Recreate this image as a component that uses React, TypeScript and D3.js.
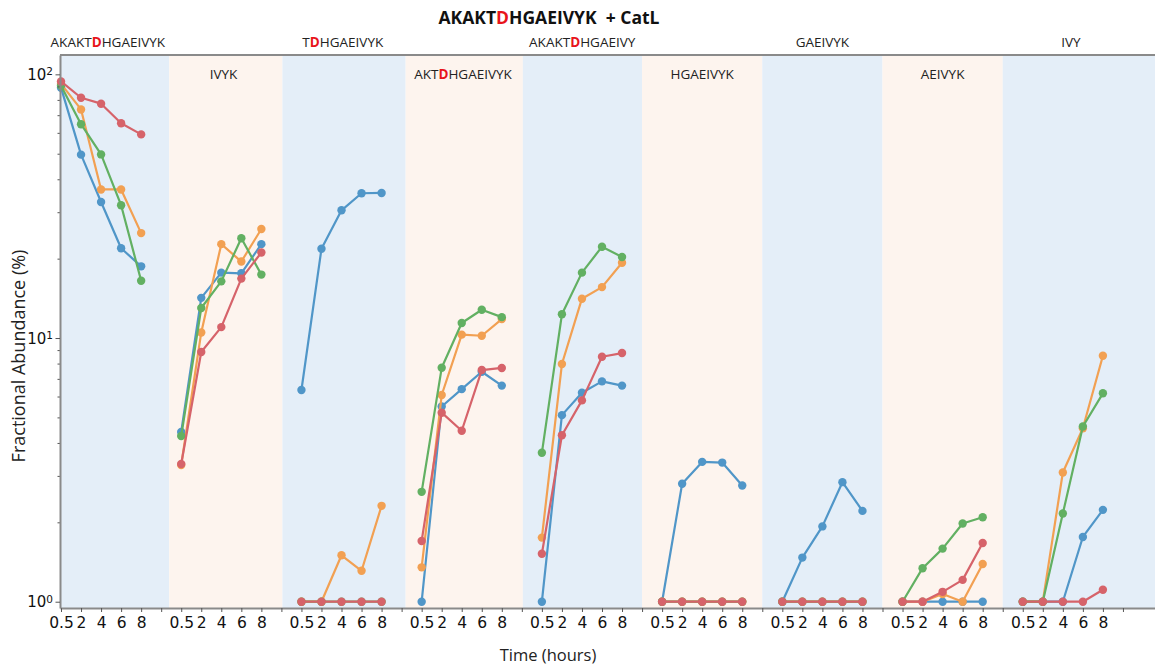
import React, { useEffect, useRef } from 'react'
import * as d3 from 'd3'

// sampling times (x tick labels inside every panel)
const times = ['0.5', '2', '4', '6', '8']

// peptide shown in each panel (the red bold letter is the D)
const peptides = ['AKAKTDHGAEIVYK', 'IVYK', 'TDHGAEIVYK', 'AKTDHGAEIVYK', 'AKAKTDHGAEIVY', 'HGAEIVYK', 'GAEIVYK', 'AEIVYK', 'IVY']

// fractional abundance (%) per panel, one row per peptide
const blueValues = [
  [89, 49.6, 32.8, 21.9, 18.7],
  [4.4, 14.2, 17.7, 17.6, 22.7],
  [6.35, 21.8, 30.5, 35.4, 35.5],
  [1, 5.5, 6.4, 7.45, 6.6],
  [1, 5.1, 6.2, 6.85, 6.6],
  [1, 2.8, 3.39, 3.37, 2.76],
  [1, 1.47, 1.93, 2.84, 2.21],
  [1, 1, 1, 1, 1],
  [1, 1, 1, 1.76, 2.23],
]
const orangeValues = [
  [92, 73.6, 36.6, 36.6, 25],
  [3.3, 10.5, 22.7, 19.5, 25.9],
  [1, 1, 1.5, 1.31, 2.31],
  [1.35, 6.08, 10.3, 10.2, 11.8],
  [1.75, 7.97, 14.1, 15.6, 19.3],
  [1, 1, 1, 1, 1],
  [1, 1, 1, 1, 1],
  [1, 1, 1.07, 1, 1.39],
  [1, 1, 3.09, 4.55, 8.57],
]
const greenValues = [
  [90.5, 64.7, 49.7, 31.9, 16.5],
  [4.25, 13, 16.4, 23.9, 17.4],
  [1, 1, 1, 1, 1],
  [2.61, 7.71, 11.4, 12.8, 12],
  [3.67, 12.3, 17.7, 22.2, 20.3],
  [1, 1, 1, 1, 1],
  [1, 1, 1, 1, 1],
  [1, 1.34, 1.59, 1.98, 2.09],
  [1, 1, 2.16, 4.62, 6.17],
]
const redValues = [
  [94, 81.5, 77.4, 65.2, 59.2],
  [3.33, 8.85, 11, 16.8, 21.1],
  [1, 1, 1, 1, 1],
  [1.7, 5.21, 4.45, 7.56, 7.7],
  [1.52, 4.28, 5.8, 8.49, 8.77],
  [1, 1, 1, 1, 1],
  [1, 1, 1, 1, 1],
  [1, 1, 1.09, 1.21, 1.67],
  [1, 1, 1, 1, 1.11],
]

const yMajorTicks = [1, 10, 100]
const yMajorExponents = ['0', '1', '2']

// panel background edges, in x units (one unit = one sampling slot)
const bandEdges = [-0.05, 5.4, 11.05, 17.2, 23.05, 29, 35, 41, 47, 54.6]

const width = 1155
const height = 669
const top = 55
const bottom = 608
const left = 60

function App() {
  const svgRef = useRef(null)

  useEffect(() => {
    const svg = d3.select(svgRef.current)
    svg.selectAll('*').remove()

    const textFont = "'Open Sans', sans-serif"
    const tickFont = "'DejaVu Sans', sans-serif"
    const axisColor = '#8a8a8a'
    const step = times.length + 1

    const x = d3.scaleLinear().domain([-0.05, 54.6]).range([left, width])
    const y = d3.scaleLog().domain([0.9465, 118.4]).range([bottom, top])

    // alternating panel backgrounds
    svg.selectAll('.band')
      .data(peptides)
      .enter().append('rect')
      .attr('class', 'band')
      .attr('x', (d, i) => x(bandEdges[i]))
      .attr('width', (d, i) => x(bandEdges[i + 1]) - x(bandEdges[i]))
      .attr('y', top)
      .attr('height', bottom - top)
      .style('fill', (d, i) => i % 2 ? '#fdf4ee' : '#e4eef8')

    // panel headings, odd ones above the frame, even ones inside
    peptides.forEach((pep, i) => {
      const cx = (x((bandEdges[i] + bandEdges[i + 1]) / 2) + x(i * step + 2)) / 2
      const t = svg.append('text')
        .attr('x', cx)
        .attr('y', i % 2 ? 79 : 47)
        .attr('text-anchor', 'middle')
        .style('font-family', textFont)
        .style('font-size', '13.5px')
        .style('fill', '#222')
      const parts = pep.split('D')
      t.append('tspan').text(parts[0])
      if (parts.length > 1) {
        t.append('tspan').text('D').style('fill', '#e8141b').style('font-weight', 700)
        t.append('tspan').text(parts[1])
      }
    })

    // title
    const title = svg.append('text')
      .attr('x', 549)
      .attr('y', 24)
      .attr('text-anchor', 'middle')
      .style('font-family', textFont)
      .style('font-size', '17.5px')
      .style('font-weight', 700)
      .style('fill', '#111')
    title.append('tspan').text('AKAKT')
    title.append('tspan').text('D').style('fill', '#e8141b')
    title.append('tspan').text('HGAEIVYK\u00a0\u00a0+ CatL')

    // series
    const series = [
      { values: blueValues, color: '#5096c8' },
      { values: orangeValues, color: '#f2a052' },
      { values: greenValues, color: '#62b062' },
      { values: redValues, color: '#d6636a' },
    ]
    const line = d3.line().x(d => x(d[0])).y(d => y(d[1]))

    series.forEach(s => {
      s.values.forEach((row, p) => {
        const pts = row.map((v, j) => [p * step + j, v])
        svg.append('path')
          .datum(pts)
          .attr('d', line)
          .style('fill', 'none')
          .style('stroke', s.color)
          .style('stroke-width', 2.2)
          .style('stroke-linejoin', 'round')
        svg.selectAll(null)
          .data(pts)
          .enter().append('circle')
          .attr('cx', d => x(d[0]))
          .attr('cy', d => y(d[1]))
          .attr('r', 4.2)
          .style('fill', s.color)
      })
    })

    // frame top
    svg.append('line')
      .attr('x1', left).attr('x2', width)
      .attr('y1', top).attr('y2', top)
      .style('stroke', axisColor)
      .style('stroke-width', 2)

    // x axis
    const xAxis = svg.append('g')
      .attr('transform', `translate(0,${bottom})`)
      .call(d3.axisBottom(x)
        .tickValues(d3.range(0, 54))
        .tickFormat(u => (u % step < times.length ? times[u % step] : ''))
        .tickSize(4)
        .tickPadding(5)
        .tickSizeOuter(0))
    xAxis.select('.domain').style('stroke', axisColor).style('stroke-width', 2)
    xAxis.selectAll('.tick line').style('stroke', '#555')
    xAxis.selectAll('.tick text')
      .style('font-family', tickFont)
      .style('font-size', '15.5px')
      .style('fill', '#111')

    // y axis, log with minor ticks
    const minor = []
    for (let k = 0; k < 2; k++) {
      for (let m = 2; m < 10; m++) minor.push(m * Math.pow(10, k))
    }
    const yMinor = svg.append('g')
      .attr('transform', `translate(${left},0)`)
      .call(d3.axisLeft(y).tickValues(minor).tickFormat(() => '').tickSize(2.5).tickSizeOuter(0))
    yMinor.select('.domain').remove()
    yMinor.selectAll('.tick line').style('stroke', '#555')

    const yAxis = svg.append('g')
      .attr('transform', `translate(${left},0)`)
      .call(d3.axisLeft(y).tickValues(yMajorTicks).tickFormat(() => '').tickSize(4.5).tickSizeOuter(0))
    yAxis.select('.domain').style('stroke', axisColor).style('stroke-width', 2)
    yAxis.selectAll('.tick line').style('stroke', '#555')
    yAxis.selectAll('.tick text').remove()
    yAxis.selectAll('.tick').each(function (d, i) {
      const t = d3.select(this).append('text')
        .attr('x', -7)
        .attr('dy', '0.35em')
        .attr('text-anchor', 'end')
        .style('font-family', tickFont)
        .style('font-size', '15px')
        .style('fill', '#111')
      t.append('tspan').text('10')
      t.append('tspan').text(yMajorExponents[i]).attr('dy', '-0.45em').style('font-size', '10.5px')
    })

    // axis titles
    svg.append('text')
      .attr('x', 548)
      .attr('y', 661)
      .attr('text-anchor', 'middle')
      .style('font-family', textFont)
      .style('font-size', '16.5px')
      .style('fill', '#222')
      .text('Time (hours)')

    svg.append('text')
      .attr('transform', 'translate(25,356) rotate(-90)')
      .attr('text-anchor', 'middle')
      .style('font-family', textFont)
      .style('font-size', '18px')
      .style('fill', '#222')
      .text('Fractional Abundance (%)')
  }, [])

  return (
    <div style={{ position: 'absolute', left: 0, top: 0, background: '#fff' }}>
      <svg ref={svgRef} width={width} height={height} style={{ display: 'block' }} />
    </div>
  )
}

export default App
